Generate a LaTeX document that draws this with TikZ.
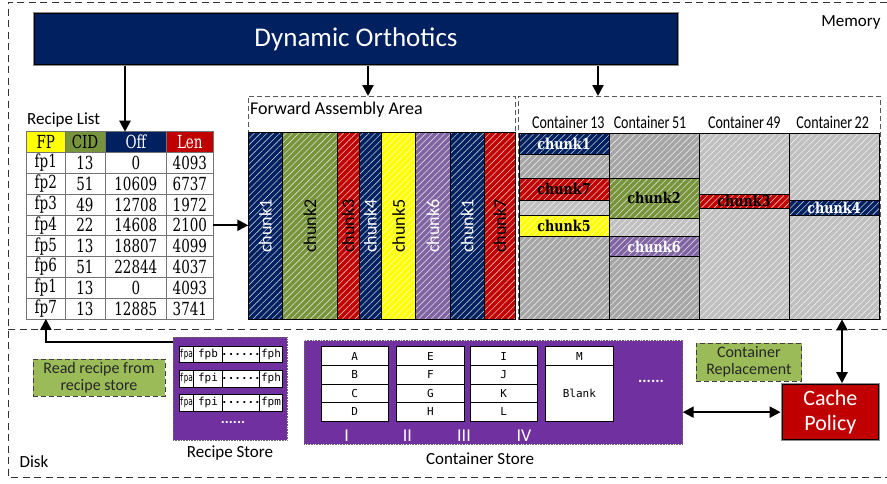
\documentclass[tikz,border=0pt]{standalone}
\usepackage{fontspec}
\setmainfont{Carlito}
\newfontfamily\tabfont[FakeStretch=0.75]{DejaVu Serif}
\newfontfamily\chkfont[FakeStretch=0.85]{DejaVu Serif}
\newfontfamily\cellfont{DejaVu Sans Mono}
\usetikzlibrary{arrows.meta,patterns.meta,calc}
\definecolor{cNavy}{HTML}{002060}
\definecolor{cOlive}{HTML}{77933C}
\definecolor{cRed}{HTML}{C00000}
\definecolor{cYel}{HTML}{FFFF00}
\definecolor{cLav}{HTML}{8064A2}
\definecolor{cPur}{HTML}{7030A0}
\definecolor{cGreen}{HTML}{9BBB59}
\definecolor{cDark}{HTML}{A6A6A6}
\definecolor{cLight}{HTML}{C0C0C0}
\tikzset{
  hatch/.style={preaction={fill=#1}, pattern={Lines[angle=45,distance=4.5pt,line width=0.6pt]}, pattern color=#1!25!white},
  outer/.style={draw=black!80, line width=0.8pt, dash pattern=on 7pt off 4.5pt},
  dbox/.style={draw=black!65, line width=0.8pt, dash pattern=on 5pt off 3pt, inner sep=0, outer sep=0, anchor=north west},
  fchunk/.style={hatch=#1, draw=black, line width=0.5pt, inner sep=0, outer sep=0, anchor=north west, minimum height=186.6pt, font=\fontsize{18}{20}\selectfont},
  cband/.style={hatch=#1, draw=black, line width=0.5pt, inner sep=0, outer sep=0, anchor=north west, minimum width=90pt, font=\chkfont\bfseries\fontsize{15}{17}\selectfont},
  tcell/.style={draw=black!55, line width=0.6pt, inner sep=0, outer sep=0, minimum height=20.8pt, font=\tabfont\fontsize{18}{20}\selectfont},
  rcell/.style={fill=white, draw=black, line width=0.5pt, inner sep=0, outer sep=0, anchor=north west, minimum height=16.5pt, font=\cellfont\fontsize{11}{12}\selectfont},
  ccell/.style={fill=white, draw=black, line width=0.5pt, inner sep=0, outer sep=0, anchor=north west, minimum width=67.3pt, font=\cellfont\fontsize{11}{13}\selectfont},
  store/.style={fill=cPur, draw=black!60, densely dotted, line width=0.6pt, inner sep=0, outer sep=0, anchor=north west},
  gbox/.style={fill=cGreen, draw=black!75, line width=0.8pt, dash pattern=on 5pt off 3pt, inner sep=0, align=center, text=black!85, font=\fontsize{16}{17}\selectfont},
  txt/.style={font=\fontsize{17}{20}\selectfont, inner sep=0},
  arr/.style={line width=2.2pt, -{Triangle[length=11pt,width=11pt]}},
  darr/.style={line width=2.2pt, {Triangle[length=11pt,width=11pt]}-{Triangle[length=11pt,width=11pt]}},
}
\begin{document}
\begin{tikzpicture}[x=1pt,y=-1pt]
\useasboundingbox (0,0) rectangle (887,483);
% outer frame
\draw[outer] (887,2) -- (8,2) -- (8,477) -- (887,477);
\draw[outer] (8,329.5) -- (887,329.5);
\node[txt] (mem) at (851,22) {Memory};
\node[txt] (disk) at (34,462) {Disk};
% title
\node[fill=cNavy, draw=black!45, line width=2.2pt, minimum width=644pt, minimum height=52.3pt, inner sep=0, text=white, font=\fontsize{27}{30}\selectfont] (title) at (356,38.85) {Dynamic Orthotics};
\draw[black, line width=0.6pt] ([shift={(1.4,1.4)}]title.north west) rectangle ([shift={(-1.4,-1.4)}]title.south east);
% recipe list
\node[txt, anchor=west] (rl) at (27,120) {Recipe List};
\node[tcell, fill=cYel, minimum width=38.3pt] (hFP) at (45.85,142.1) {FP};
\node[tcell, fill=cOlive, minimum width=40pt] (hCID) at (85,142.1) {CID};
\node[tcell, fill=cNavy, text=white, minimum width=61.7pt] (hOff) at (135.85,142.1) {Off};
\node[tcell, fill=cRed, text=white, minimum width=46.3pt] (hLen) at (189.85,142.1) {Len};
\foreach \a/\b/\c/\d [count=\r] in {fp1/13/0/4093, fp2/51/10609/6737, fp3/49/12708/1972, fp4/22/14608/2100, fp5/13/18807/4099, fp6/51/22844/4037, fp1/13/0/4093, fp7/13/12885/3741} {
  \node[tcell, minimum width=38.3pt] (ra\r) at (45.85,{142.1+20.8*\r}) {\a};
  \node[tcell, minimum width=40pt] (rb\r) at (85,{142.1+20.8*\r}) {\b};
  \node[tcell, minimum width=61.7pt] (rc\r) at (135.85,{142.1+20.8*\r}) {\c};
  \node[tcell, minimum width=46.3pt] (rd\r) at (189.85,{142.1+20.8*\r}) {\d};
}
% forward assembly area
\node[dbox, minimum width=267.4pt, minimum height=223.3pt] (faa) at (248.3,96) {};
\node[anchor=west, inner sep=0, font=\fontsize{18}{20}\selectfont] (faal) at (250,109.5) {Forward Assembly Area};
\foreach \x/\w/\c/\t/\n [count=\i] in {248.3/34.4/cNavy/white/chunk1, 282.7/54.6/cOlive/black/chunk2, 337.3/21.7/cRed/black/chunk3, 359/22.7/cNavy/white/chunk4, 381.7/34/cYel/black/chunk5, 415.7/34.3/cLav/white/chunk6, 450/34.3/cNavy/white/chunk1, 484.3/31.4/cRed/black/chunk7} {
  \node[fchunk=\c, minimum width=\w pt, text=\t] (fa\i) at (\x,132.7) {\rotatebox{90}{\n}};
}
% containers
\node[dbox, minimum width=361.7pt, minimum height=223.3pt] (cont) at (518.3,96) {};
\foreach \x/\n [count=\i] in {568.3/13, 650/51, 744.3/49, 832.7/22} {
  \node[inner sep=0, font=\fontsize{18}{20}\selectfont] (cl\i) at (\x,122.7) {\scalebox{0.78}[1]{Container\hspace{-1pt} \n}};
}
\foreach \x/\ya/\h/\c/\t/\n [count=\i] in {
  519/133.3/21/cNavy/white/chunk1, 519/154.3/24/cDark/black/{}, 519/178.3/21.7/cRed/black/chunk7, 519/200/15/cLight/black/{}, 519/215/21.7/cYel/black/chunk5, 519/236.7/82.6/cDark/black/{},
  609/133.3/45/cDark/black/{}, 609/178.3/40/cOlive/black/chunk2, 609/218.3/18.4/cLight/black/{}, 609/236.7/20/cLav/white/chunk6, 609/256.7/62.6/cDark/black/{},
  699/133.3/60.7/cLight/black/{}, 699/194/14.3/cRed/black/chunk3, 699/208.3/111/cLight/black/{},
  789/133.3/66.7/cLight/black/{}, 789/200/15.7/cNavy/white/chunk4, 789/215.7/103.6/cLight/black/{}} {
  \node[cband=\c, minimum height=\h pt, text=\t] (cb\i) at (\x,\ya) {\n};
}
% recipe store
\node[store, minimum width=114pt, minimum height=103pt] (rstore) at (173,337) {};
\foreach \y/\p/\q/\s [count=\k] in {346/fpa/fpb/fph, 370.5/fpa/fpi/fph, 394.5/fpa/fpi/fpm} {
  \node[rcell, minimum width=14.3pt] (rsa\k) at (179,\y) {\makebox[0pt]{\scalebox{0.68}[1]{\p}}};
  \node[rcell, minimum width=29.4pt] (rsb\k) at (193.3,\y) {\makebox[0pt]{\q}};
  \node[rcell, minimum width=36.6pt] (rsc\k) at (222.7,\y) {\makebox[0pt]{\bfseries......}};
  \node[rcell, minimum width=23.4pt] (rsd\k) at (259.3,\y) {\makebox[0pt]{\s}};
}
\node[inner sep=0, text=white, font=\bfseries\fontsize{15}{16}\selectfont] (rsdots) at (233,422) {......};
\node[txt] (rsl) at (230,453) {Recipe Store};
\node[gbox, minimum width=132pt, minimum height=37pt] (readr) at (99,377.5) {Read recipe from\\recipe store};
% container store
\node[store, minimum width=378.4pt, minimum height=103.6pt] (cstore) at (304.3,340.7) {};
\foreach \gx/\la/\lb/\lc/\ld [count=\g] in {321/A/B/C/D, 396.7/E/F/G/H, 470/I/J/K/L} {
  \node[ccell, minimum height=18.6pt] (g\g a) at (\gx,346.7) {\la};
  \node[ccell, minimum height=18.6pt] (g\g b) at (\gx,365.3) {\lb};
  \node[ccell, minimum height=18.6pt] (g\g c) at (\gx,383.9) {\lc};
  \node[ccell, minimum height=18.6pt] (g\g d) at (\gx,402.5) {\ld};
}
\node[ccell, minimum height=18.6pt] (g4a) at (545.7,346.7) {M};
\node[ccell, minimum height=55.8pt] (g4b) at (545.7,365.3) {Blank};
\foreach \x/\n [count=\i] in {346.7/I, 407.3/II, 464/III, 524/IV} {
  \node[inner sep=0, text=white, font=\fontsize{18}{19}\selectfont] (rn\i) at (\x,436) {\n};
}
\node[inner sep=0, text=white, font=\bfseries\fontsize{16}{17}\selectfont] (csdots) at (651,381) {......};
\node[txt] (csl) at (480,458.3) {Container Store};
% cache policy
\node[fill=cRed, draw=black!45, line width=2.2pt, minimum width=97.3pt, minimum height=55.7pt, inner sep=0, text=white, align=center, font=\fontsize{22}{25}\selectfont] (cache) at (830.35,412.15) {Cache\\Policy};
\draw[black, line width=0.6pt] ([shift={(1.4,1.4)}]cache.north west) rectangle ([shift={(-1.4,-1.4)}]cache.south east);
\node[gbox, minimum width=105.7pt, minimum height=37.7pt] (crep) at (748.85,362.15) {Container\\Replacement};
% arrows
\coordinate (xa) at (125,0);
\coordinate (xb) at (368,0);
\coordinate (xc) at (598,0);
\coordinate (xd) at (842,0);
\coordinate (ya) at (0,342);
\draw[arr] (title.south -| xa) -- (hOff.north -| xa);
\draw[arr] (title.south -| xb) -- (faa.north -| xb);
\draw[arr] (title.south -| xc) -- (cont.north -| xc);
\draw[arr] (rd4.east) -- (rd4.east -| faa.west);
\draw[arr] (rstore.west |- ya) -| (ra8.south);
\draw[darr] (cstore.east |- cache.west) -- (cache.west);
\draw[darr] (cache.north -| xd) -- (cont.south -| xd);
\end{tikzpicture}
\end{document}
